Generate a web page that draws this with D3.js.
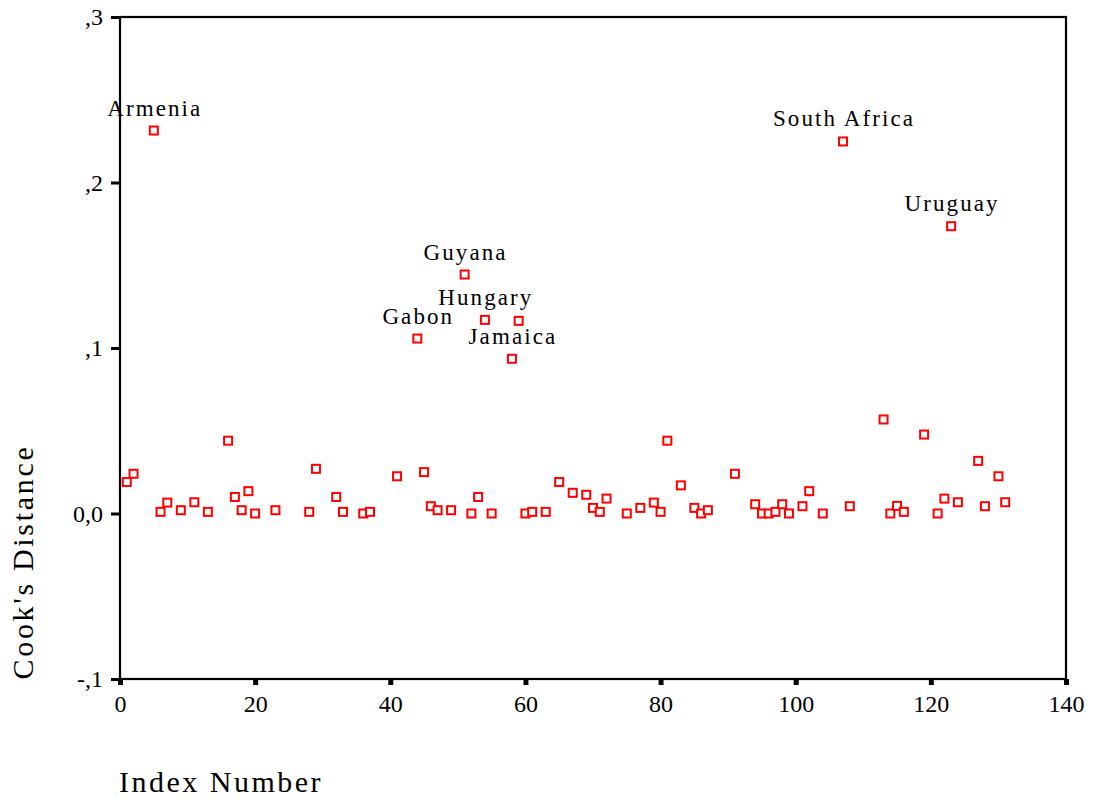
<!DOCTYPE html>
<html>
<head>
<meta charset="utf-8">
<script src="https://cdn.jsdelivr.net/npm/d3@7"></script>
<style>
  body { margin: 0; background: #fff; }
  text { font-family: "Liberation Serif", "Times New Roman", serif; fill: #000; }
</style>
</head>
<body>
<div id="chart"></div>
<script>
// case index and Cook's distance
let indexNum = [1, 2, 5, 6, 7, 9, 11, 13, 16, 17, 18, 19, 20, 23, 28, 29, 32, 33, 36, 37,
  41, 44, 45, 46, 47, 49, 51, 52, 53, 54, 55, 58, 59, 60, 61, 63, 65, 67, 69, 70,
  71, 72, 75, 77, 79, 80, 81, 83, 85, 86, 87, 91, 94, 95, 96, 97, 98, 99, 101, 102,
  104, 107, 108, 113, 114, 115, 116, 119, 121, 122, 123, 124, 127, 128, 130, 131];
let cookD = [0.019, 0.024, 0.2314, 0.001, 0.0066, 0.002, 0.0068, 0.001, 0.044, 0.010, 0.002, 0.0135, 0.0, 0.002, 0.001, 0.027, 0.010, 0.001, 0.0, 0.001,
  0.0225, 0.1057, 0.025, 0.0044, 0.002, 0.002, 0.1444, 0.0, 0.010, 0.117, 0.0, 0.0935, 0.1164, 0.0, 0.001, 0.001, 0.019, 0.0125, 0.0113, 0.0034,
  0.001, 0.009, 0.0, 0.0034, 0.0066, 0.001, 0.044, 0.017, 0.0034, 0.0, 0.002, 0.024, 0.0056, 0.0, 0.0, 0.001, 0.0056, 0.0, 0.0044, 0.0135,
  0.0, 0.2248, 0.0044, 0.0568, 0.0, 0.0046, 0.001, 0.0477, 0.0, 0.009, 0.1736, 0.0068, 0.0318, 0.0044, 0.0225, 0.0068];

// labelled outliers
let labelIdx = [5, 44, 51, 54, 58, 107, 123];
let labelNames = ["Armenia", "Gabon", "Guyana", "Hungary", "Jamaica", "South Africa", "Uruguay"];

let xTicks = [0, 20, 40, 60, 80, 100, 120, 140];
let yTicks = [-0.1, 0, 0.1, 0.2, 0.3];
let yTickLabels = ["-,1", "0,0", ",1", ",2", ",3"];

let svgWidth = 1096;
let svgHeight = 798;

let svg = d3.select("#chart")
  .append("svg")
  .attr("width", svgWidth)
  .attr("height", svgHeight);

let xScale = d3.scaleLinear().domain([0, 140]).range([120, 1066]);
let yScale = d3.scaleLinear().domain([-0.1, 0.3]).range([679, 17]);

let data = indexNum.map((d, i) => ({ idx: d, val: cookD[i] }));

// frame
svg.append("rect")
  .attr("x", xScale(0))
  .attr("y", yScale(0.3))
  .attr("width", xScale(140) - xScale(0))
  .attr("height", yScale(-0.1) - yScale(0.3))
  .attr("fill", "none")
  .attr("stroke", "#000")
  .attr("stroke-width", 2.2);

// y axis
let leftAxis = d3.axisLeft(yScale)
  .tickValues(yTicks)
  .tickSize(9)
  .tickPadding(8)
  .tickFormat((d, i) => yTickLabels[i]);

let yAxisG = svg.append("g")
  .attr("transform", `translate(${xScale(0)},0)`)
  .call(leftAxis);
yAxisG.select(".domain").remove();
yAxisG.selectAll(".tick line").attr("stroke", "#000").attr("stroke-width", 3);
yAxisG.selectAll(".tick text")
  .attr("font-size", 24);

// x axis
let bottomAxis = d3.axisBottom(xScale)
  .tickValues(xTicks)
  .tickSize(6)
  .tickPadding(10)
  .tickFormat(d3.format("d"));

let xAxisG = svg.append("g")
  .attr("transform", `translate(0,${yScale(-0.1)})`)
  .call(bottomAxis);
xAxisG.select(".domain").remove();
xAxisG.selectAll(".tick line").attr("stroke", "#000").attr("stroke-width", 5);
xAxisG.selectAll(".tick text")
  .attr("font-size", 24);

// points
svg.append("g").selectAll("rect")
  .data(data)
  .enter()
  .append("rect")
  .attr("x", d => xScale(d.idx) - 4)
  .attr("y", d => yScale(d.val) - 4)
  .attr("width", 8)
  .attr("height", 8)
  .attr("fill", "#fff")
  .attr("stroke", "#ff0000")
  .attr("stroke-width", 2);

// point labels
svg.append("g").selectAll("text")
  .data(labelIdx)
  .enter()
  .append("text")
  .attr("x", d => xScale(d) + 1)
  .attr("y", d => yScale(cookD[indexNum.indexOf(d)]) - 15)
  .attr("text-anchor", "middle")
  .attr("font-size", 23)
  .attr("letter-spacing", 2.1)
  .text((d, i) => labelNames[i]);

// axis titles
svg.append("text")
  .attr("x", 119)
  .attr("y", 792)
  .attr("font-size", 30)
  .attr("letter-spacing", 2.5)
  .text("Index Number");

svg.append("text")
  .attr("transform", `translate(33, 562) rotate(-90)`)
  .attr("text-anchor", "middle")
  .attr("font-size", 30)
  .attr("letter-spacing", 2.7)
  .text("Cook's Distance");
</script>
</body>
</html>
